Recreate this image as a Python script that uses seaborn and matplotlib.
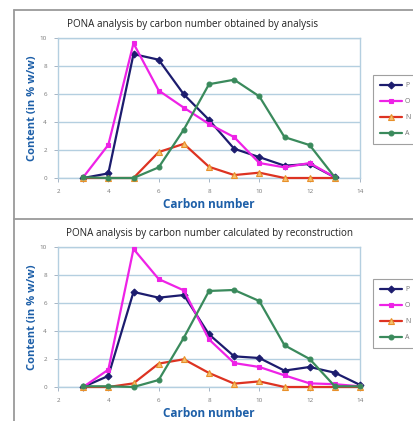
import matplotlib
matplotlib.use("Agg")
import matplotlib.pyplot as plt
from matplotlib.lines import Line2D
import seaborn as sns
import pandas as pd

# Data
carbon_top = [3, 4, 5, 6, 7, 8, 9, 10, 11, 12, 13]
p_top = [0.0, 0.33, 8.85, 8.45, 5.97, 4.15, 2.09, 1.49, 0.88, 1.0, 0.05]
o_top = [0.05, 2.37, 9.62, 6.25, 5.02, 3.86, 2.92, 1.07, 0.76, 1.07, 0.05]
n_top = [0.0, 0.0, 0.0, 1.85, 2.44, 0.8, 0.21, 0.38, 0.0, 0.0, 0.0]
a_top = [0.05, 0.0, 0.0, 0.76, 3.46, 6.7, 7.02, 5.83, 2.92, 2.35, 0.05]

carbon_bot = [3, 4, 5, 6, 7, 8, 9, 10, 11, 12, 13, 14]
p_bot = [0.0, 0.79, 6.79, 6.38, 6.57, 3.76, 2.19, 2.07, 1.17, 1.43, 1.02, 0.15]
o_bot = [0.0, 1.24, 9.86, 7.71, 6.9, 3.4, 1.71, 1.43, 0.83, 0.26, 0.2, 0.05]
n_bot = [0.0, 0.0, 0.26, 1.67, 1.98, 1.0, 0.24, 0.4, 0.0, 0.0, 0.0, 0.0]
a_bot = [0.05, 0.05, 0.0, 0.5, 3.52, 6.86, 6.93, 6.14, 2.98, 2.0, 0.05, 0.05]

titles = ["PONA analysis by carbon number obtained by analysis",
          "PONA analysis by carbon number calculated by reconstruction"]
series_names = ["P", "O", "N", "A"]

styles = {
    "P": dict(color="#1c1c6e", marker="D", mfc="#1c1c6e", mec="#1c1c6e", ms=3.5),
    "O": dict(color="#ee22e6", marker="s", mfc="#ee22e6", mec="#ee22e6", ms=3.5),
    "N": dict(color="#dd3322", marker="^", mfc="#f5c070", mec="#e8902a", ms=4.5),
    "A": dict(color="#3a8a5c", marker="o", mfc="#3a8a5c", mec="#3a8a5c", ms=3.5),
}

BLUE = "#1d5fa8"
GRID = "#b4cfe0"

sns.set_style("white")
plt.rcParams["font.family"] = ["Open Sans", "DejaVu Sans"]

fig = plt.figure(figsize=(4.14, 4.21), dpi=100)
W, H = 414, 421


def px_axes(left, top, right, bottom):
    return fig.add_axes([left / W, 1 - bottom / H, (right - left) / W, (bottom - top) / H])


def draw_panel(ax, x, values, title, title_x, title_y, legend_top):
    frames = []
    for name, vals in zip(series_names, values):
        frames.append(pd.DataFrame({"Carbon": x, "Content": vals, "Type": name}))
    df = pd.concat(frames)
    for name in series_names:
        st = styles[name]
        sns.lineplot(data=df[df["Type"] == name], x="Carbon", y="Content", ax=ax,
                     color=st["color"], marker=st["marker"], markersize=st["ms"],
                     markerfacecolor=st["mfc"], markeredgecolor=st["mec"],
                     markeredgewidth=0.8, linewidth=1.6, label=name, clip_on=False,
                     zorder=3)
    ax.set_xlim(2, 14)
    ax.set_ylim(0, 10)
    ax.set_xticks(range(2, 15, 2))
    ax.set_yticks(range(0, 11, 2))
    ax.yaxis.grid(True, color=GRID, linewidth=1.0)
    ax.set_axisbelow(True)
    for sp in ax.spines.values():
        sp.set_color(GRID)
        sp.set_linewidth(1.0)
    ax.tick_params(axis="both", labelsize=4.5, labelcolor="#777777", color="#9ab",
                   length=3, width=0.6, direction="out", pad=5)
    ax.tick_params(left=True, bottom=True)
    ax.set_xlabel("Carbon number", color=BLUE, fontsize=8.5, fontweight="bold", labelpad=3)
    ax.set_ylabel("Content (in % w/w)", color=BLUE, fontsize=8.0, fontweight="bold", labelpad=1.5)
    fig.text(title_x / W, 1 - title_y / H, title, fontsize=7.1, color="#222222",
             ha="center", va="center")
    leg = ax.legend(loc="upper left", bbox_to_anchor=(373 / W, 1 - legend_top / H),
                    bbox_transform=fig.transFigure, frameon=True, fancybox=False,
                    fontsize=5, labelcolor="#777777", handlelength=3.2,
                    handletextpad=0.4, labelspacing=1.3, borderpad=1.0,
                    borderaxespad=0)
    leg.get_frame().set_edgecolor("#888888")
    leg.get_frame().set_linewidth(0.8)


ax1 = px_axes(58, 38, 360, 178)
draw_panel(ax1, carbon_top, [p_top, o_top, n_top, a_top], titles[0], 193, 24, 75)

ax2 = px_axes(58, 247, 360, 387)
draw_panel(ax2, carbon_bot, [p_bot, o_bot, n_bot, a_bot], titles[1], 210, 234, 279)

# outer frame and separator
frame_c = "#9a9a9a"
fig.lines.append(Line2D([14 / W, 14 / W], [1 - 10 / H, 0], transform=fig.transFigure,
                        color=frame_c, linewidth=1.3))
fig.lines.append(Line2D([14 / W, 1], [1 - 10 / H, 1 - 10 / H], transform=fig.transFigure,
                        color=frame_c, linewidth=1.3))
fig.lines.append(Line2D([14 / W, 1], [1 - 219 / H, 1 - 219 / H], transform=fig.transFigure,
                        color=frame_c, linewidth=1.3))

fig.savefig("out.png", dpi=100)
